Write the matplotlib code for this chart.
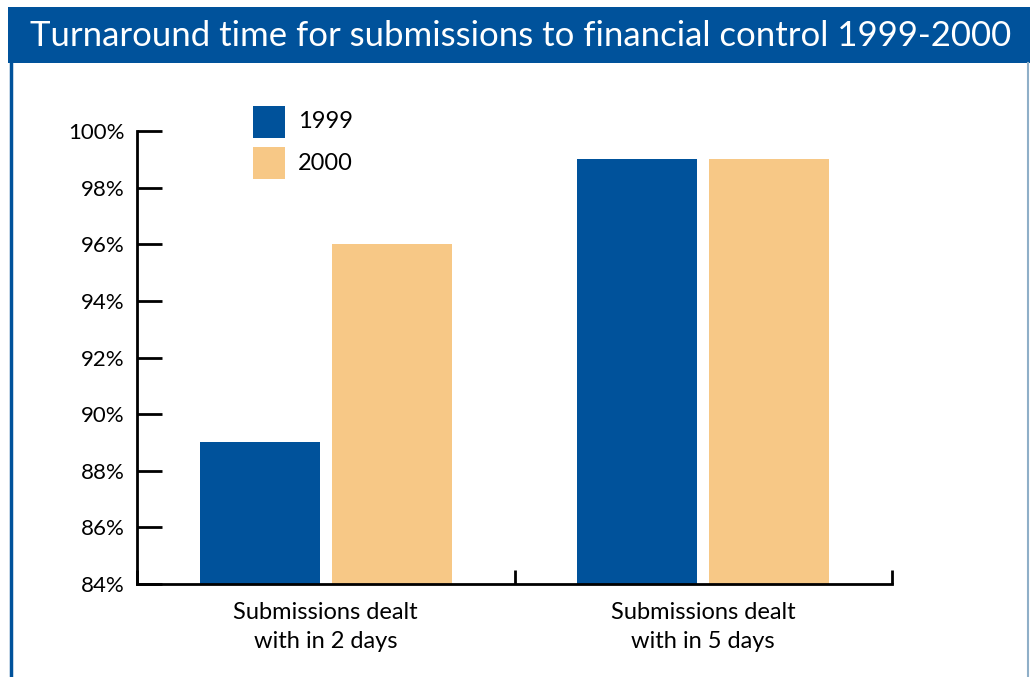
import matplotlib
matplotlib.use("Agg")
import matplotlib.pyplot as plt
from matplotlib.patches import Rectangle
import numpy as np

# data
categories = ["Submissions dealt\nwith in 2 days", "Submissions dealt\nwith in 5 days"]
years = ["1999", "2000"]
vals_1999 = [89, 99]
vals_2000 = [96, 99]
y_ticks = [84, 86, 88, 90, 92, 94, 96, 98, 100]

BLUE = "#00529B"
TAN = "#F7C886"
W, H = 1030, 677

plt.rcParams['font.family'] = ['Lato', 'DejaVu Sans']

fig = plt.figure(figsize=(W / 100, H / 100), dpi=100)

def fx(px):
    return px / W

def fy(py):
    return 1 - py / H

# title bar + frame
fig.patches.append(Rectangle((fx(8), fy(63)), fx(1030 - 8), 56 / H, transform=fig.transFigure,
                             facecolor=BLUE, edgecolor="none", zorder=0))
fig.add_artist(plt.Line2D([fx(11), fx(11)], [0, fy(63)], color=BLUE, lw=2.5, transform=fig.transFigure))
fig.add_artist(plt.Line2D([fx(1028), fx(1028)], [0, fy(63)], color="#8FAFC8", lw=1.5, transform=fig.transFigure))
fig.text(fx(30), fy(36), "Turnaround time for submissions to financial control 1999-2000",
         color="white", fontsize=25, va="center", ha="left")

ax = fig.add_axes([fx(137), fy(584), fx(892 - 137), (584 - 131) / H])

x = np.array([0.5, 1.5])
bw = 0.318
off = 0.175
ax.bar(x - off, vals_1999, width=bw, color=BLUE, bottom=0)
ax.bar(x + off, vals_2000, width=bw, color=TAN, bottom=0)

ax.set_ylim(84, 100)
ax.set_xlim(0, 2)
ax.set_yticks(y_ticks)
ax.set_yticklabels([f"{t}%" for t in y_ticks], fontsize=16)
ax.tick_params(axis="y", direction="in", length=18, width=2, pad=9)
ax.set_xticks([0, 1, 2])
ax.set_xticklabels([])
ax.tick_params(axis="x", direction="in", length=10, width=2)
for cx, lab in zip(x, categories):
    ax.text(cx, -0.04, lab, transform=ax.get_xaxis_transform(), ha="center", va="top",
            fontsize=17, linespacing=1.45)
for s in ["top", "right"]:
    ax.spines[s].set_visible(False)
ax.spines["left"].set_linewidth(2)
ax.spines["bottom"].set_linewidth(2)

# legend
for (py, col, lab) in [(106, BLUE, years[0]), (147, TAN, years[1])]:
    fig.patches.append(Rectangle((fx(253), fy(py + 32)), fx(32), 32 / H, transform=fig.transFigure,
                                 facecolor=col, edgecolor="none"))
    fig.text(fx(298), fy(py + 16), lab, fontsize=17, va="center", ha="left")

fig.savefig("out.png", dpi=100)
